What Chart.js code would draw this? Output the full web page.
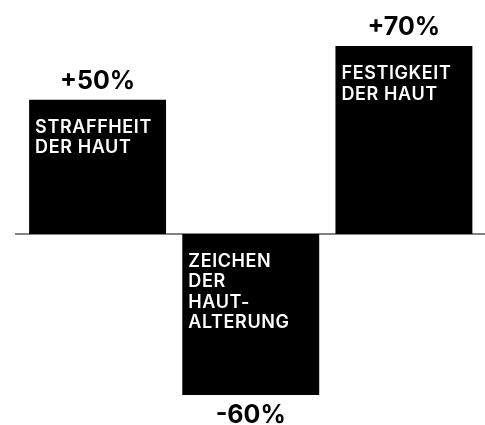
<!DOCTYPE html>
<html lang="de">
<head>
<meta charset="utf-8">
<title>Hautwirkung</title>
<script src="https://cdn.jsdelivr.net/npm/chart.js@4.4.0/dist/chart.umd.min.js"></script>
<style>
  html, body { margin: 0; padding: 0; background: #fff; }
  #wrap { width: 485px; height: 425px; }
</style>
</head>
<body>
<div id="wrap"><canvas id="chart" width="485" height="425"></canvas></div>
<script>
// Datos del gráfico
const categories = [
  ['STRAFFHEIT', 'DER HAUT'],
  ['ZEICHEN', 'DER', 'HAUT-', 'ALTERUNG'],
  ['FESTIGKEIT', 'DER HAUT']
];
const values = [50, -60, 70];
const valueLabels = ['+50%', '-60%', '+70%'];
const yMin = -60;
const yMax = 70;

// Línea base en cero
const zeroLinePlugin = {
  id: 'zeroLine',
  beforeDatasetsDraw(chart) {
    const ctx = chart.ctx;
    const y = chart.scales.y.getPixelForValue(0);
    ctx.save();
    ctx.strokeStyle = '#5a5a5a';
    ctx.lineWidth = 1.5;
    ctx.beginPath();
    ctx.moveTo(chart.chartArea.left - 6, y);
    ctx.lineTo(chart.width, y);
    ctx.stroke();
    ctx.restore();
  }
};

// Textos dentro y fuera de las barras
const barTextPlugin = {
  id: 'barText',
  afterDatasetsDraw(chart) {
    const ctx = chart.ctx;
    const meta = chart.getDatasetMeta(0);
    ctx.save();
    meta.data.forEach((bar, i) => {
      const left = bar.x - bar.width / 2;
      const top = Math.min(bar.y, bar.base);
      const bottom = Math.max(bar.y, bar.base);

      ctx.fillStyle = '#fff';
      ctx.font = '600 18px Inter';
      ctx.letterSpacing = '0.6px';
      ctx.textAlign = 'left';
      ctx.textBaseline = 'alphabetic';
      categories[i].forEach((line, j) => {
        ctx.fillText(line, left + 6, top + 33 + j * 20.5);
      });

      ctx.fillStyle = '#000';
      ctx.font = '700 25px Inter';
      ctx.letterSpacing = '0px';
      ctx.textAlign = 'center';
      if (values[i] >= 0) {
        ctx.fillText(valueLabels[i], bar.x, top - 11);
      } else {
        ctx.fillText(valueLabels[i], bar.x, bottom + 28);
      }
    });
    ctx.restore();
  }
};

const chart = new Chart(document.getElementById('chart').getContext('2d'), {
  type: 'bar',
  data: {
    labels: categories.map(c => c.join(' ')),
    datasets: [{
      data: values,
      backgroundColor: '#000',
      borderWidth: 0,
      barPercentage: 0.894,
      categoryPercentage: 1
    }]
  },
  options: {
    responsive: false,
    animation: false,
    layout: {
      padding: { left: 21, right: 4.5, top: 46, bottom: 30 }
    },
    plugins: {
      legend: { display: false },
      tooltip: { enabled: false }
    },
    scales: {
      x: { display: false },
      y: { display: false, min: yMin, max: yMax }
    }
  },
  plugins: [zeroLinePlugin, barTextPlugin]
});
</script>
</body>
</html>
